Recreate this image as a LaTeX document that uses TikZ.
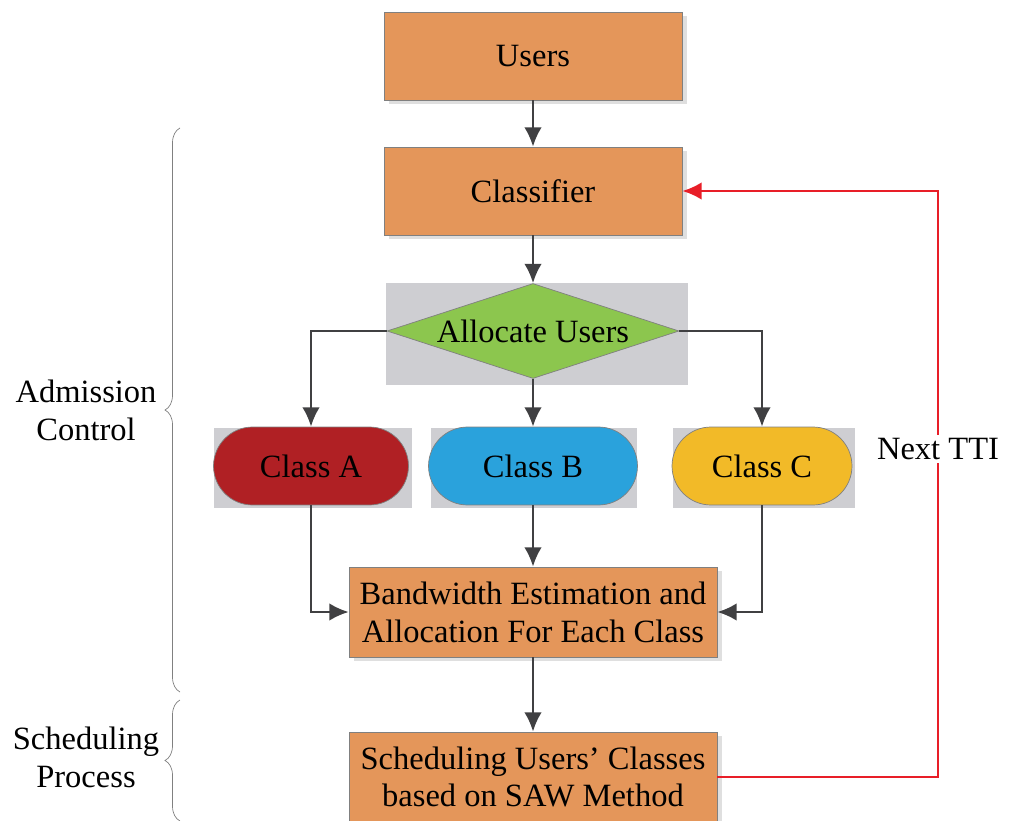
\documentclass[tikz,border=0pt]{standalone}
\usepackage{fontspec}
\setmainfont{Liberation Serif}
\usepackage{tikz}
\usetikzlibrary{shapes.geometric,arrows.meta,decorations.pathreplacing,shadows}

\definecolor{boxorange}{RGB}{228,150,90}
\definecolor{diagreen}{RGB}{140,198,78}
\definecolor{classred}{RGB}{176,32,36}
\definecolor{classblue}{RGB}{42,162,220}
\definecolor{classyellow}{RGB}{242,186,40}
\definecolor{backgrey}{RGB}{206,206,210}
\definecolor{arrowgrey}{RGB}{64,64,66}
\definecolor{loopred}{RGB}{232,30,40}

\tikzset{
  stagebox/.style={draw=gray,fill=boxorange,minimum width=5.96cm,minimum height=1.76cm,
    font=\fontsize{18.5}{21.5}\selectfont,align=center,
    drop shadow={shadow xshift=0.1cm,shadow yshift=-0.08cm,opacity=0.25}},
  classbox/.style={draw=gray,rounded corners=0.78cm,minimum height=1.56cm,
    font=\fontsize{18.5}{21.5}\selectfont},
  greyback/.style={fill=backgrey,inner sep=0pt},
  flow/.style={draw=arrowgrey,line width=1.4pt,-{Latex[length=11pt,width=10pt]}},
  sidebrace/.style={draw=gray,decorate,decoration={brace,amplitude=0.3cm}},
}

\begin{document}
\begin{tikzpicture}[x=0.02cm,y=-0.02cm]
  \useasboundingbox (0,0) rectangle (1018,821);
  % grey backgrounds
  \node[greyback,minimum width=6.04cm,minimum height=2.04cm] (allocback) at (537,334) {};
  \node[greyback,minimum width=3.98cm,minimum height=1.6cm] (backA) at (313,468) {};
  \node[greyback,minimum width=4.14cm,minimum height=1.6cm] (backB) at (534,468) {};
  \node[greyback,minimum width=3.64cm,minimum height=1.6cm] (backC) at (764,468) {};
  % main boxes
  \node[stagebox] (users) at (533,56) {Users};
  \node[stagebox] (classifier) at (533,191) {Classifier};
  \node[draw=gray,fill=diagreen,diamond,aspect=3,inner sep=0pt,minimum width=5.84cm,minimum height=1.9cm,
    font=\fontsize{18.5}{21.5}\selectfont] (alloc) at (533,331) {Allocate Users};
  \node[classbox,fill=classred,minimum width=3.9cm] (classA) at (311,466) {Class A};
  \node[classbox,fill=classblue,minimum width=4.18cm] (classB) at (533,466) {Class B};
  \node[classbox,fill=classyellow,minimum width=3.6cm] (classC) at (762,466) {Class C};
  \node[stagebox,minimum width=7.36cm,minimum height=1.8cm] (bandwidth) at (533,612) {Bandwidth Estimation and\\Allocation For Each Class};
  \node[stagebox,minimum width=7.36cm,minimum height=1.8cm] (scheduling) at (533,777) {Scheduling Users' Classes\\based on SAW Method};
  % connectors
  \path[flow] (users) -- (classifier);
  \path[flow] (classifier) -- (alloc);
  \path[flow] (alloc.west) -| (classA.north);
  \path[flow] (alloc.south) -- (classB.north);
  \path[flow] (alloc.east) -| (classC.north);
  \path[flow] (classA.south) |- (bandwidth.west);
  \path[flow] (classB.south) -- (bandwidth.north);
  \path[flow] (classC.south) |- (bandwidth.east);
  \path[flow] (bandwidth) -- (scheduling);
  \coordinate (loopcorner) at (938,777);
  \draw[loopred,line width=1.4pt,-{Latex[length=11pt,width=10pt]}] (scheduling.east) -- (loopcorner) |- (classifier.east)
    node[pos=0.28,fill=white,text=black,font=\fontsize{18.5}{21.5}\selectfont,inner sep=2pt] (nexttti) {Next TTI};
  % braces and labels
  \path[sidebrace] (180,692) -- (180,128);
  \path[sidebrace] (180,821) -- (180,700);
  \node[font=\fontsize{18.5}{21.5}\selectfont,align=center] (admission) at (86,410) {Admission\\Control};
  \node[font=\fontsize{18.5}{21.5}\selectfont,align=center] (process) at (86,757) {Scheduling\\Process};
\end{tikzpicture}
\end{document}
